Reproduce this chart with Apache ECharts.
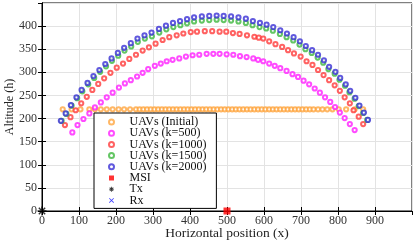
<!DOCTYPE html>
<html><head><meta charset="utf-8">
<script src="https://cdn.jsdelivr.net/npm/echarts@6/dist/echarts.min.js"></script>
<style>html,body{margin:0;padding:0;background:#fff}#c{width:415px;height:241px}</style>
</head><body><div id="c"></div>
<script>
// ---- data ----
const initX = [56,80,104,128,143,159,175,191,207,222,238,254,264,274,284,294,304,314,324,334,344,354,364,374,384,394,404,414,424,434,444,454,464,474,484,494,504,514,524,534,544,554,564,574,584,594,604,614,624,634,644,654,664,674,684,694,704,714,724,734,746,758,771,785,802,822,845,868];
const initH = 220;

const k500X = [82,96,112,128,143,159,175,191,208,224,240,257,272,287,305,321,337,353,371,389,407,425,445,463,480,499,517,535,553,571,584,598,614,629,644,661,677,692,707,722,737,751,765,779,792,805,818,832,845];
const k500Y = [170,186,199,211,224,235,246,256,267,276,283,291,299,307,314,319,324,327,330,334,337,338,340,340,340,339,338,335,333,330,327,324,319,314,309,303,296,290,282,274,265,256,246,236,225,213,201,188,175];

const k1000X = [62,77,91,106,121,136,152,168,185,202,219,236,254,272,289,307,326,344,364,382,402,419,440,460,480,498,516,534,554,574,586,598,614,631,649,665,681,699,715,731,746,761,776,791,805,818,832,842,856,868];
const k1000Y = [186,203,218,233,247,262,275,287,299,310,319,329,338,347,354,362,370,376,380,384,387,388,389,389,388,388,385,383,380,377,375,373,367,361,355,348,341,334,324,316,305,294,283,272,260,246,233,218,204,188];

const k1500X = [53,66,80,95,109,125,141,157,173,189,206,223,241,259,278,297,317,336,355,374,392,411,432,452,472,491,511,531,551,569,588,606,624,643,661,679,696,712,729,745,760,774,791,804,819,831,845,856,868,879];
const k1500Y = [195,210,228,244,259,274,288,301,313,325,336,347,356,366,373,378,386,393,398,402,406,410,412,413,414,413,412,410,407,402,398,395,390,383,376,369,360,350,342,332,321,307,297,284,271,257,243,227,212,197];

const k2000X = [51,64,78,93,107,123,139,155,171,188,205,222,240,258,277,296,316,335,354,373,392,411,432,452,472,491,511,531,551,570,589,607,625,644,662,680,697,713,730,746,762,776,793,806,821,833,847,858,870,881];
const k2000Y = [195,211,229,246,262,277,292,305,318,330,342,353,363,373,380,386,394,401,407,411,415,419,421,422,423,422,421,419,416,411,407,403,398,391,384,376,367,357,348,338,326,312,301,288,274,260,245,228,213,197];

const msiPos = [[500, 0]];
const txPos = [[0, 0]];
const rxPos = [];

const seriesNames = ['UAVs (Initial)','UAVs (k=500)','UAVs (k=1000)','UAVs (k=1500)','UAVs (k=2000)','MSI','Tx','Rx'];
const xTicks = [0,100,200,300,400,500,600,700,800,900,1000];
const yTicks = [0,50,100,150,200,250,300,350,400,450];

// ---- styles ----
const FONT = 'Liberation Serif';
const cols = {init:'#FFA53F', k500:'#FF1FFF', k1000:'#FF3B3B', k1500:'#3DB83D', k2000:'#3A2FD6', msi:'#FF0000', tx:'#000000', rx:'#1010FF'};
const asteriskBold = 'path://M-1.6,-10L1.6,-10L1.6,10L-1.6,10Z M-10,-1.6L10,-1.6L10,1.6L-10,1.6Z M-8.2,-5.9L-5.9,-8.2L8.2,5.9L5.9,8.2Z M5.9,-8.2L8.2,-5.9L-5.9,8.2L-8.2,5.9Z';
const cross = 'path://M-7.6,-6.0L-6.0,-7.6L7.6,6.0L6.0,7.6Z M6.0,-7.6L7.6,-6.0L-6.0,7.6L-7.6,6.0Z';
const square = 'path://M0,0L10,0L10,10L0,10Z';

const zip = (xs, ys) => xs.map((x, i) => [x, Array.isArray(ys) ? ys[i] : ys]);

function ring(name, data, color) {
  return {
    name, type: 'scatter', data,
    symbol: 'emptyCircle', symbolSize: 4.2,
    itemStyle: {color: color, borderWidth: 1.2},
    emphasis: {disabled: true}, z: 3
  };
}

const chart = echarts.init(document.getElementById('c'), null, {renderer: 'canvas'});
const axisCommon = {
  axisLine: {show: true, lineStyle: {color: '#000', width: 1}},
  axisTick: {show: true, inside: true, length: 4, lineStyle: {color: '#000'}},
  splitLine: {show: false}
};
chart.setOption({
  animation: false,
  backgroundColor: '#fff',
  grid: {left: 42, right: 3, top: 3, bottom: 30, show: true, borderColor: '#000', borderWidth: 1,
         backgroundColor: 'transparent', containLabel: false, outerBoundsMode: 'none'},
  xAxis: [
    Object.assign({}, axisCommon, {
      type: 'value', min: xTicks[0], max: xTicks[xTicks.length-1], interval: 100, position: 'bottom',
      name: 'Horizontal position (x)', nameLocation: 'middle', nameGap: 15, nameMoveOverlap: false,
      nameTextStyle: {fontFamily: FONT, fontSize: 13.5, color: '#222'},
      axisLabel: {fontFamily: FONT, fontSize: 12, color: '#333', margin: 4, showMaxLabel: false},
      splitLine: {show: true, lineStyle: {color: '#e3e3e3', width: 1}}
    }),
    Object.assign({}, axisCommon, {
      type: 'value', min: xTicks[0], max: xTicks[xTicks.length-1], interval: 100, position: 'top',
      axisLabel: {show: false}
    })
  ],
  yAxis: [
    Object.assign({}, axisCommon, {
      type: 'value', min: yTicks[0], max: yTicks[yTicks.length-1], interval: 50, position: 'left',
      name: 'Altitude (h)', nameLocation: 'middle', nameGap: 26, nameRotate: 90, nameMoveOverlap: false,
      nameTextStyle: {fontFamily: FONT, fontSize: 12, color: '#222'},
      axisLabel: {fontFamily: FONT, fontSize: 12, color: '#333', margin: 5, showMaxLabel: false},
      splitLine: {show: true, lineStyle: {color: '#e3e3e3', width: 1}}
    }),
    Object.assign({}, axisCommon, {
      type: 'value', min: yTicks[0], max: yTicks[yTicks.length-1], interval: 50, position: 'right',
      axisLabel: {show: false}
    })
  ],
  legend: {
    orient: 'vertical', left: 94, top: 113,
    backgroundColor: '#fff', borderColor: '#000', borderWidth: 1,
    padding: [3, 10, 2, 14], itemGap: -0.8, itemWidth: 26, itemHeight: 5,
    textStyle: {fontFamily: FONT, fontSize: 12, color: '#111', lineHeight: 10.6},
    selectedMode: false,
    data: [
      {name: seriesNames[0], icon: 'emptyCircle'},
      {name: seriesNames[1], icon: 'emptyCircle'},
      {name: seriesNames[2], icon: 'emptyCircle'},
      {name: seriesNames[3], icon: 'emptyCircle'},
      {name: seriesNames[4], icon: 'emptyCircle'},
      {name: seriesNames[5], icon: square, itemStyle: {color: cols.msi}},
      {name: seriesNames[6], icon: asteriskBold, itemStyle: {color: cols.tx}},
      {name: seriesNames[7], icon: cross, itemStyle: {color: cols.rx}}
    ]
  },
  series: [
    ring(seriesNames[0], zip(initX, initH), cols.init),
    ring(seriesNames[1], zip(k500X, k500Y), cols.k500),
    ring(seriesNames[2], zip(k1000X, k1000Y), cols.k1000),
    ring(seriesNames[3], zip(k1500X, k1500Y), cols.k1500),
    ring(seriesNames[4], zip(k2000X, k2000Y), cols.k2000),
    {name: seriesNames[5], type: 'scatter', data: msiPos, symbol: 'rect', symbolSize: 7,
     itemStyle: {color: cols.msi}, z: 5, clip: false},
    {name: seriesNames[6], type: 'scatter', data: txPos, symbol: asteriskBold, symbolSize: 9,
     itemStyle: {color: cols.tx}, z: 6, clip: false},
    {name: seriesNames[7], type: 'scatter', data: rxPos, symbol: cross, symbolSize: 7,
     itemStyle: {color: cols.rx}, z: 5}
  ]
});
</script>
</body></html>
